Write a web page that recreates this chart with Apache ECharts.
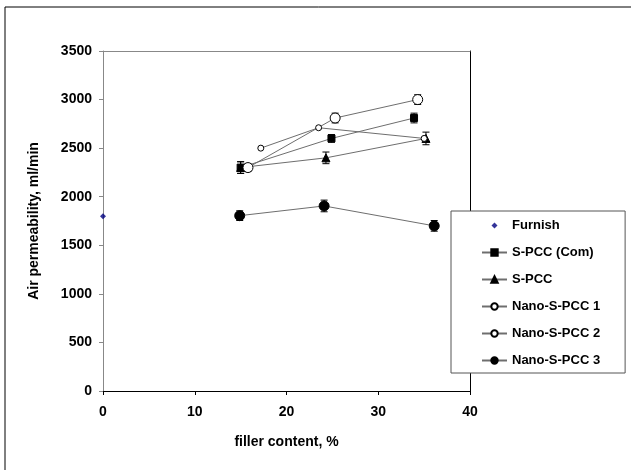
<!DOCTYPE html>
<html>
<head>
<meta charset="utf-8">
<script src="https://cdn.jsdelivr.net/npm/echarts@6/dist/echarts.min.js"></script>
<style>
  html, body { margin: 0; padding: 0; background: #fff; }
  #chart { width: 631px; height: 470px; }
</style>
</head>
<body>
<div id="chart"></div>
<script>
// Filler content (%) and air permeability (ml/min), with ± error half-widths
const furnishX = [0];
const furnishY = [1800];

const comX = [15, 24.9, 33.9];
const comY = [2300, 2600, 2810];
const comErr = [60, 40, 50];

const spccX = [15, 24.3, 35.2];
const spccY = [2300, 2400, 2600];
const spccErr = [60, 60, 65];

const nano1X = [17.2, 23.5, 35];
const nano1Y = [2500, 2710, 2600];

const nano2X = [15.8, 25.3, 34.3];
const nano2Y = [2300, 2810, 3000];
const nano2Err = [40, 50, 50];

const nano3X = [14.9, 24.1, 36.1];
const nano3Y = [1805, 1905, 1700];
const nano3Err = [50, 60, 55];

const xTicks = [0, 10, 20, 30, 40];
const yTicks = [0, 500, 1000, 1500, 2000, 2500, 3000, 3500];

const FONT = 'Liberation Sans, Arial, sans-serif';
const LINE = '#6e6e6e';

// small diamond centred in a 25x8 box so the legend keeps its size
const SMALL_DIAMOND = 'path://M0,0 M25,8 M12.5,1 L15.5,4 L12.5,7 L9.5,4 Z';

function pairs(xs, ys) { return xs.map((x, i) => [x, ys[i]]); }
function errData(xs, ys, es) { return xs.map((x, i) => [x, ys[i] - es[i], ys[i] + es[i]]); }

function errorSeries(xs, ys, es) {
  return {
    type: 'custom',
    silent: true,
    z: 1,
    data: errData(xs, ys, es),
    renderItem: function (params, api) {
      const lo = api.coord([api.value(0), api.value(1)]);
      const hi = api.coord([api.value(0), api.value(2)]);
      const w = 3.5;
      const st = { stroke: '#000', lineWidth: 1 };
      return {
        type: 'group',
        children: [
          { type: 'line', shape: { x1: lo[0], y1: lo[1], x2: hi[0], y2: hi[1] }, style: st },
          { type: 'line', shape: { x1: lo[0] - w, y1: lo[1], x2: lo[0] + w, y2: lo[1] }, style: st },
          { type: 'line', shape: { x1: hi[0] - w, y1: hi[1], x2: hi[0] + w, y2: hi[1] }, style: st }
        ]
      };
    }
  };
}

function lineSeries(name, xs, ys, symbol, size, fill) {
  return {
    name: name,
    type: 'line',
    data: pairs(xs, ys),
    symbol: symbol,
    symbolSize: size,
    showAllSymbol: true,
    z: 3,
    lineStyle: { color: LINE, width: 1 },
    itemStyle: { color: fill, borderColor: '#000', borderWidth: 1 },
    emphasis: { disabled: true }
  };
}

const chart = echarts.init(document.getElementById('chart'), null, { renderer: 'canvas' });

chart.setOption({
  animation: false,
  backgroundColor: '#fff',
  textStyle: { fontFamily: FONT },
  grid: { left: 103, right: 161, top: 51, bottom: 79, containLabel: false },
  graphic: [{
    type: 'rect',
    shape: { x: 5, y: 7, width: 700, height: 500 },
    style: { fill: 'none', stroke: '#000', lineWidth: 1 },
    z: -10
  }],
  legend: {
    orient: 'vertical',
    left: 451,
    top: 211,
    padding: [8, 25, 6, 30],
    itemGap: 14,
    itemWidth: 25,
    itemHeight: 8,
    backgroundColor: '#fff',
    borderColor: '#555',
    borderWidth: 1,
    textStyle: { fontFamily: FONT, fontSize: 13, fontWeight: 'bold', color: '#000' },
    data: [
      { name: 'Furnish', icon: SMALL_DIAMOND },
      'S-PCC (Com)', 'S-PCC', 'Nano-S-PCC 1', 'Nano-S-PCC 2', 'Nano-S-PCC 3'
    ]
  },
  xAxis: [{
    type: 'value',
    min: 0, max: 40, interval: 10,
    name: 'filler content, %',
    nameLocation: 'middle',
    nameGap: 44,
    nameTextStyle: { fontFamily: FONT, fontSize: 14, fontWeight: 'bold', color: '#000' },
    axisLine: { onZero: false, lineStyle: { color: '#000', width: 1 } },
    axisTick: { show: true, length: 4, inside: false, lineStyle: { color: '#000' } },
    axisLabel: { margin: 14, fontFamily: FONT, fontSize: 14, fontWeight: 'bold', color: '#000',
      formatter: v => xTicks.includes(v) ? String(v) : '' },
    splitLine: { show: false }
  }, {
    type: 'value', position: 'top', min: 0, max: 40,
    axisLine: { show: true, onZero: false, lineStyle: { color: '#888', width: 1 } },
    axisTick: { show: false }, axisLabel: { show: false }, splitLine: { show: false }
  }],
  yAxis: [{
    type: 'value',
    min: 0, max: 3500, interval: 500,
    name: 'Air permeability, ml/min',
    nameLocation: 'middle',
    nameGap: 62,
    nameRotate: 90,
    nameTextStyle: { fontFamily: FONT, fontSize: 14, fontWeight: 'bold', color: '#000' },
    axisLine: { show: true, onZero: false, lineStyle: { color: '#888', width: 1 } },
    axisTick: { show: true, length: 4, inside: false, lineStyle: { color: '#888' } },
    axisLabel: { margin: 11, fontFamily: FONT, fontSize: 14, fontWeight: 'bold', color: '#000',
      formatter: v => yTicks.includes(v) ? String(v) : '' },
    splitLine: { show: false }
  }, {
    type: 'value', position: 'right', min: 0, max: 3500,
    axisLine: { show: true, onZero: false, lineStyle: { color: '#000', width: 1 } },
    axisTick: { show: false }, axisLabel: { show: false }, splitLine: { show: false }
  }],
  series: [
    errorSeries(comX, comY, comErr),
    errorSeries(spccX, spccY, spccErr),
    errorSeries(nano2X, nano2Y, nano2Err),
    errorSeries(nano3X, nano3Y, nano3Err),
    {
      name: 'Furnish',
      type: 'scatter',
      data: pairs(furnishX, furnishY),
      symbol: 'diamond',
      symbolSize: 6,
      z: 3,
      itemStyle: { color: '#00007f' },
      emphasis: { disabled: true }
    },
    lineSeries('S-PCC (Com)', comX, comY, 'rect', 7, '#000'),
    lineSeries('S-PCC', spccX, spccY, 'triangle', 8, '#000'),
    lineSeries('Nano-S-PCC 1', nano1X, nano1Y, 'circle', 6, '#fff'),
    lineSeries('Nano-S-PCC 2', nano2X, nano2Y, 'circle', 10, '#fff'),
    lineSeries('Nano-S-PCC 3', nano3X, nano3Y, 'circle', 10, '#000')
  ]
});
</script>
</body>
</html>
